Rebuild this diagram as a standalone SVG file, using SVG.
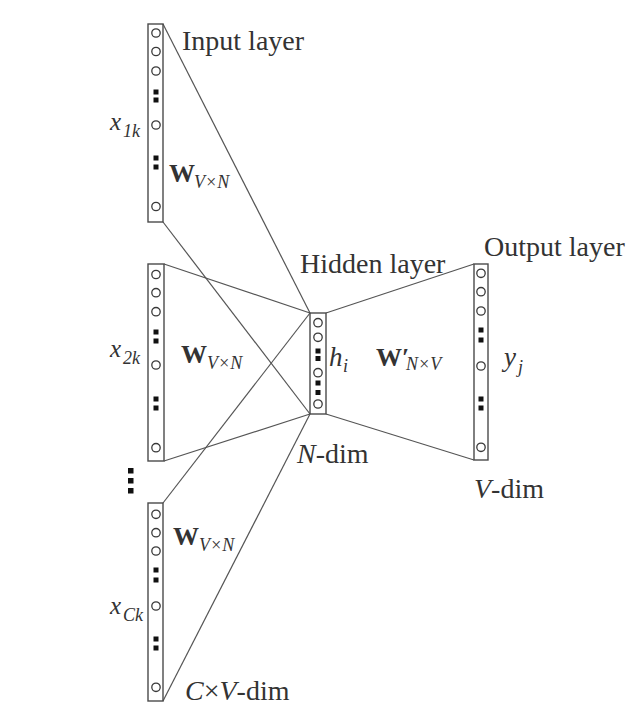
<svg xmlns="http://www.w3.org/2000/svg" width="640" height="718" viewBox="0 0 640 718">
<defs>
<style>
.box{fill:none;stroke:#4a4a4a;stroke-width:1.4}
.n{fill:none;stroke:#3a3a3a;stroke-width:1.3}
.d{fill:#111}
.c line{stroke:#555;stroke-width:1.2}
text{font-family:"Liberation Serif","Times New Roman",serif;fill:#333}
.lbl{font-size:28px}
.it{font-style:italic}
.b{font-weight:bold}
</style>
</defs>
<rect width="640" height="718" fill="#fff"/>
<g class="c" id="connectors">
<line x1="163" y1="24" x2="310" y2="313"/>
<line x1="163" y1="222" x2="310" y2="414"/>
<line x1="164" y1="264" x2="310" y2="313"/>
<line x1="164" y1="461" x2="310" y2="414"/>
<line x1="163" y1="503" x2="310" y2="313"/>
<line x1="163" y1="701" x2="310" y2="414"/>
<line x1="326" y1="313" x2="474" y2="264"/>
<line x1="326" y1="414" x2="474" y2="460"/>
</g>
<g id="input1">
<rect class="box" x="148" y="24" width="15" height="198"/>
<circle class="n" cx="156" cy="33" r="4.2"/>
<circle class="n" cx="156" cy="51.5" r="4.2"/>
<circle class="n" cx="156" cy="71" r="4.2"/>
<rect class="d" x="153.5" y="89.5" width="5" height="5"/>
<rect class="d" x="153.5" y="97.5" width="5" height="5"/>
<circle class="n" cx="156" cy="125" r="4.2"/>
<rect class="d" x="153.5" y="155.5" width="5" height="5"/>
<rect class="d" x="153.5" y="164.5" width="5" height="5"/>
<circle class="n" cx="156" cy="206.5" r="4.2"/>
<text class="lbl" x="182" y="50">Input layer</text>
<text class="it" x="110" y="130" font-size="25">x</text>
<text class="it" x="123" y="137" font-size="18">1k</text>
<text class="b" x="169" y="182" font-size="26">W</text>
<text class="it" x="194" y="188" font-size="18">V×N</text>
</g>
<g id="input2">
<rect class="box" x="148" y="264" width="16" height="197"/>
<circle class="n" cx="156" cy="274.5" r="4.2"/>
<circle class="n" cx="156" cy="292.7" r="4.2"/>
<circle class="n" cx="156" cy="311.7" r="4.2"/>
<rect class="d" x="153.5" y="329.5" width="5" height="5"/>
<rect class="d" x="153.5" y="338.5" width="5" height="5"/>
<circle class="n" cx="156" cy="365" r="4.2"/>
<rect class="d" x="153.5" y="396.5" width="5" height="5"/>
<rect class="d" x="153.5" y="405.5" width="5" height="5"/>
<circle class="n" cx="156" cy="447.7" r="4.2"/>
<text class="it" x="110" y="357" font-size="25">x</text>
<text class="it" x="123" y="364" font-size="18">2k</text>
<text class="b" x="181" y="363" font-size="26">W</text>
<text class="it" x="207" y="369" font-size="18">V×N</text>
</g>
<g id="ellipsis">
<rect class="d" x="128" y="468" width="5.5" height="5.5"/>
<rect class="d" x="128" y="478" width="5.5" height="5.5"/>
<rect class="d" x="128" y="488" width="5.5" height="5.5"/>
</g>
<g id="input3">
<rect class="box" x="148" y="503" width="15" height="198"/>
<circle class="n" cx="156" cy="514.3" r="4.2"/>
<circle class="n" cx="156" cy="532.7" r="4.2"/>
<circle class="n" cx="156" cy="551" r="4.2"/>
<rect class="d" x="153.5" y="567.5" width="5" height="5"/>
<rect class="d" x="153.5" y="577.5" width="5" height="5"/>
<circle class="n" cx="156" cy="606" r="4.2"/>
<rect class="d" x="153.5" y="636.5" width="5" height="5"/>
<rect class="d" x="153.5" y="645.5" width="5" height="5"/>
<circle class="n" cx="156" cy="687.3" r="4.2"/>
<text class="it" x="110" y="614" font-size="25">x</text>
<text class="it" x="123" y="621" font-size="18">Ck</text>
<text class="b" x="173" y="545" font-size="26">W</text>
<text class="it" x="199" y="551" font-size="18">V×N</text>
<text class="lbl" x="185" y="700"><tspan class="it">C</tspan>×<tspan class="it">V</tspan>-dim</text>
</g>
<g id="hidden">
<rect class="box" x="310" y="313" width="16" height="101"/>
<circle class="n" cx="318" cy="322.7" r="4.2"/>
<circle class="n" cx="318" cy="337.3" r="4.2"/>
<rect class="d" x="315.5" y="348.5" width="5" height="5"/>
<rect class="d" x="315.5" y="356" width="5" height="5"/>
<circle class="n" cx="318" cy="372.7" r="4.2"/>
<rect class="d" x="315.5" y="380.5" width="5" height="5"/>
<rect class="d" x="315.5" y="390" width="5" height="5"/>
<circle class="n" cx="318" cy="404" r="4.2"/>
<text class="lbl" x="300" y="273">Hidden layer</text>
<text class="lbl" x="297" y="463"><tspan class="it">N</tspan>-dim</text>
<text class="it" x="329" y="366" font-size="27">h</text>
<text class="it" x="343" y="372" font-size="18">i</text>
<text class="b" x="376" y="366" font-size="26">W′</text>
<text class="it" x="406" y="370" font-size="18">N×V</text>
</g>
<g id="output">
<rect class="box" x="474" y="264" width="14" height="196"/>
<circle class="n" cx="481" cy="273.3" r="4.2"/>
<circle class="n" cx="481" cy="291.7" r="4.2"/>
<circle class="n" cx="481" cy="311" r="4.2"/>
<rect class="d" x="478.5" y="327.5" width="5" height="5"/>
<rect class="d" x="478.5" y="337.5" width="5" height="5"/>
<circle class="n" cx="481" cy="366" r="4.2"/>
<rect class="d" x="478.5" y="396.5" width="5" height="5"/>
<rect class="d" x="478.5" y="405.5" width="5" height="5"/>
<circle class="n" cx="481" cy="447.3" r="4.2"/>
<text class="lbl" x="484" y="256">Output layer</text>
<text class="lbl" x="474" y="498"><tspan class="it">V</tspan>-dim</text>
<text class="it" x="504" y="366" font-size="27">y</text>
<text class="it" x="518" y="373" font-size="18">j</text>
</g>
</svg>
